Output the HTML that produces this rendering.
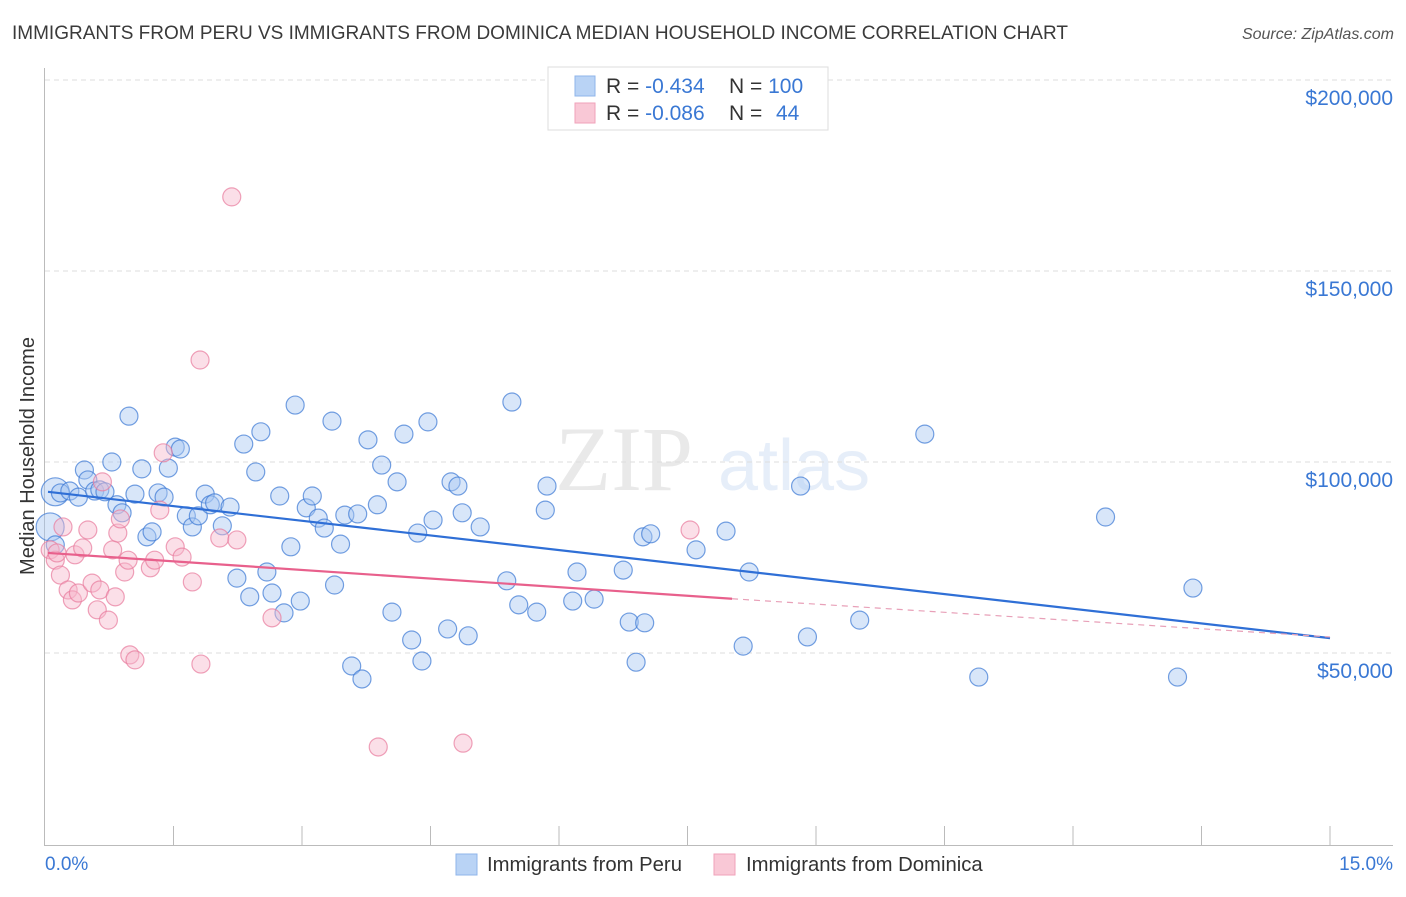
<!DOCTYPE html>
<html><head><meta charset="utf-8"><style>
body{margin:0;background:#fff;font-family:"Liberation Sans",sans-serif}
</style></head><body>
<svg width="1406" height="892" xmlns="http://www.w3.org/2000/svg" font-family="Liberation Sans, sans-serif">
<text x="12" y="39" font-size="19" fill="#3a3a3a">IMMIGRANTS FROM PERU VS IMMIGRANTS FROM DOMINICA MEDIAN HOUSEHOLD INCOME CORRELATION CHART</text>
<text x="1394" y="39" font-size="16" fill="#555" text-anchor="end" font-style="italic">Source: ZipAtlas.com</text>
<g opacity="0.18">
<text x="555" y="490" font-size="92" font-family="Liberation Serif, serif" fill="#888">ZIP</text>
<text x="718" y="490" font-size="72" fill="#7aa3e0">atlas</text>
</g>
<g id="grid"></g>
<g id="axes"></g>
<g id="marks"></g>
<text transform="translate(34,456) rotate(-90)" font-size="20" fill="#333" text-anchor="middle">Median Household Income</text>
<g>
<rect x="548" y="67" width="280" height="63" fill="#fff" stroke="#ddd"/>
<rect x="575" y="76" width="20" height="20" fill="#b9d3f5" stroke="#8fb4ea"/>
<rect x="575" y="103" width="20" height="20" fill="#f9c8d6" stroke="#f0a2ba"/>
<text x="606" y="93" font-size="21" fill="#333">R = <tspan fill="#3a78d4">-0.434</tspan><tspan x="729">N = </tspan><tspan fill="#3a78d4">100</tspan></text>
<text x="606" y="120" font-size="21" fill="#333">R = <tspan fill="#3a78d4">-0.086</tspan><tspan x="729">N = </tspan><tspan x="776" fill="#3a78d4">44</tspan></text>
</g>
<g>
<rect x="456" y="854" width="21" height="21" fill="#b9d3f5" stroke="#8fb4ea"/>
<text x="487" y="871" font-size="20.3" fill="#333">Immigrants from Peru</text>
<rect x="714" y="854" width="21" height="21" fill="#f9c8d6" stroke="#f0a2ba"/>
<text x="746" y="871" font-size="20.3" fill="#333">Immigrants from Dominica</text>
</g>
<text x="45" y="870" font-size="19" fill="#3a78d4">0.0%</text>
<text x="1393" y="870" font-size="19" fill="#3a78d4" text-anchor="end">15.0%</text>
</svg>
<script>
const yTicks=[50,100,150,200];
const yTickLabels=["$50,000","$100,000","$150,000","$200,000"];
const peruX=[.12,.18,.29,.39,.46,.50,.58,.64,.70,.78,.84,.90,.98,1.05,1.13,1.19,1.25,1.32,1.39,1.44,1.52,1.58,1.65,1.72,1.79,1.87,1.93,1.98,2.07,2.16,2.24,2.32,2.39,2.46,2.52,2.59,2.65,2.74,2.79,2.87,2.92,2.98,3.05,3.12,3.19,3.26,3.35,3.38,3.45,3.50,3.65,3.77,3.88,3.93,4.05,4.11,4.19,4.28,4.35,4.40,4.47,4.53,4.70,4.74,4.82,4.87,4.94,5.08,5.39,5.45,5.53,5.74,5.84,5.86,6.16,6.21,6.41,6.75,6.82,6.90,6.98,7.00,7.07,7.60,7.95,8.15,8.22,8.82,8.90,9.51,10.27,10.90,12.38,13.22,13.40,.06,.12,3.58,3.70];
const peruY=[92.2,91.9,92.4,90.8,97.9,95.3,92.4,92.7,92.2,100.0,88.8,86.7,112.0,91.6,98.2,80.4,81.7,91.9,90.8,98.4,103.9,103.4,85.9,83.0,85.9,91.6,88.8,89.3,83.3,88.2,69.6,104.7,64.7,97.4,107.9,71.2,65.7,91.1,60.5,77.8,114.9,63.6,88.0,91.1,85.3,82.7,110.7,67.8,78.5,86.1,86.4,105.8,88.8,99.2,60.7,94.8,107.3,53.4,81.4,47.9,110.5,84.8,56.3,94.8,93.7,86.7,54.5,83.0,68.9,115.7,62.6,60.7,87.4,93.7,63.6,71.2,64.1,71.7,58.1,47.6,80.4,57.9,81.2,77.0,81.9,51.8,71.2,93.7,54.2,58.6,107.3,43.7,85.6,43.7,67.0,83.0,78.3,46.6,43.2];
const domX=[.06,.12,.14,.18,.21,.27,.32,.35,.39,.44,.50,.55,.61,.64,.67,.74,.79,.82,.85,.88,.93,.97,.99,1.05,1.23,1.28,1.34,1.38,1.52,1.60,1.72,1.81,1.82,2.04,2.18,2.24,2.65,3.89,4.88,7.53];
const domY=[77.0,74.3,76.2,70.4,83.0,66.5,63.9,75.7,65.7,77.5,82.2,68.3,61.3,66.5,94.8,58.6,77.0,64.7,81.4,85.1,71.2,74.3,49.5,48.2,72.3,74.3,87.4,102.4,77.8,75.1,68.6,126.7,47.1,80.1,169.4,79.6,59.2,25.4,26.4,82.2];
const peruTrendX=[0.035,15];const peruTrendY=[92.2,53.9];
const domTrendX=[0.035,8.02,15];const domTrendY=[76.2,64.2,54.2];
const NS="http://www.w3.org/2000/svg";
const sx=v=>45+v*(1330-45)/15;
const sy=v=>844-v*3.82;
function mk(t,a,p){const e=document.createElementNS(NS,t);for(const k in a)e.setAttribute(k,a[k]);p.appendChild(e);return e;}
const grid=document.getElementById('grid'),axes=document.getElementById('axes'),marks=document.getElementById('marks');
yTicks.forEach((v,i)=>{
 const l=mk('line',{x1:45,x2:1393,y1:sy(v),y2:sy(v),stroke:'#ddd','stroke-dasharray':'5,4'},grid);
 
 
 const t=mk('text',{x:1393,y:sy(v)+25,'font-size':21,fill:'#3a78d4','text-anchor':'end'},axes);
 t.textContent=yTickLabels[i];
 
 
});
const ax=mk('path',{d:'M44.5 68V845.5H1393',stroke:'#bbb',fill:'none'},axes);


for(let i=1;i<=10;i++){const l=mk('line',{x1:sx(i*1.5),x2:sx(i*1.5),y1:826,y2:845,stroke:'#bbb'},axes);
 
 }
function dots(X,Y,fill,stroke,name){X.forEach((x,i)=>{const c=mk('circle',{cx:sx(x),cy:sy(Y[i]),r:(x<0.15&&(Y[i]==83.0||Y[i]==92.2))?14:9,fill:fill,'fill-opacity':0.45,stroke:stroke,'stroke-opacity':0.7,'stroke-width':1.2},marks);
 
 });}
dots(peruX,peruY,'#a9c8f2','#3a78d4','peru-point');
dots(domX,domY,'#f7b8cb','#e87a9c','dominica-point');
const pl=mk('line',{x1:sx(peruTrendX[0]),y1:sy(peruTrendY[0]),x2:sx(peruTrendX[1]),y2:sy(peruTrendY[1]),stroke:'#2f6fd6','stroke-width':2.2},marks);


const dl=mk('line',{x1:sx(domTrendX[0]),y1:sy(domTrendY[0]),x2:sx(domTrendX[1]),y2:sy(domTrendY[1]),stroke:'#e8608c','stroke-width':2.2},marks);


const dd=mk('line',{x1:sx(domTrendX[1]),y1:sy(domTrendY[1]),x2:sx(domTrendX[2]),y2:sy(domTrendY[2]),stroke:'#e8a0b8','stroke-width':1.2,'stroke-dasharray':'6,5'},marks);


</script>
</body></html>
